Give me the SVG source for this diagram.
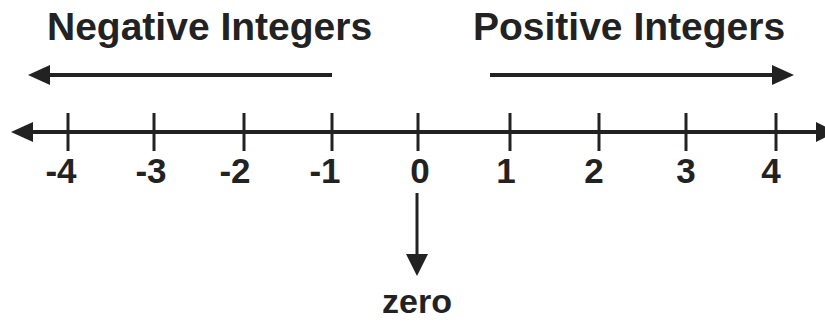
<svg xmlns="http://www.w3.org/2000/svg" width="825" height="327" viewBox="0 0 825 327">
  <style>
    .title { font-family: "Liberation Sans", Arial, sans-serif; font-weight: bold; font-size: 39px; fill: #222; }
    .num { font-family: "Liberation Sans", Arial, sans-serif; font-weight: bold; font-size: 35px; fill: #222; text-anchor: middle; }
    .lbl { font-family: "Liberation Sans", Arial, sans-serif; font-weight: bold; font-size: 34px; fill: #222; text-anchor: middle; }
    .line { stroke: #222; stroke-width: 4; fill: none; }
    .tick { stroke: #222; stroke-width: 3; }
    .head { fill: #222; }
  </style>
  <rect width="825" height="327" fill="#fff"/>

  <!-- headings -->
  <g id="negative-heading">
    <text class="title" x="47" y="40">Negative Integers</text>
  </g>
  <g id="positive-heading">
    <text class="title" x="473" y="40">Positive Integers</text>
  </g>

  <g id="connectors">
    <!-- direction arrows under the headings -->
    <line class="line" x1="332" y1="75" x2="44" y2="75"/>
    <polygon class="head" points="28,75 50,65 50,85"/>
    <line class="line" x1="490" y1="75" x2="778" y2="75"/>
    <polygon class="head" points="794,75 772,65 772,85"/>

    <!-- number line with arrowheads at both ends -->
    <line class="line" x1="26" y1="132" x2="820" y2="132"/>
    <polygon class="head" points="11,132 33,122 33,142"/>
    <polygon class="head" points="836,132 816,122 816,142"/>

    <!-- pointer to zero -->
    <line class="tick" x1="417" y1="193" x2="417" y2="258"/>
    <polygon class="head" points="417,276 406,254 428,254"/>
  </g>

  <!-- ticks and labels -->
  <g id="tick-m4"><line class="tick" x1="68" y1="113" x2="68" y2="151"/><text class="num" x="61" y="183">-4</text></g>
  <g id="tick-m3"><line class="tick" x1="154" y1="113" x2="154" y2="151"/><text class="num" x="151" y="183">-3</text></g>
  <g id="tick-m2"><line class="tick" x1="244" y1="113" x2="244" y2="151"/><text class="num" x="235" y="183">-2</text></g>
  <g id="tick-m1"><line class="tick" x1="332" y1="113" x2="332" y2="151"/><text class="num" x="325" y="183">-1</text></g>
  <g id="tick-0"><line class="tick" x1="418" y1="113" x2="418" y2="151"/><text class="num" x="420" y="183">0</text></g>
  <g id="tick-1"><line class="tick" x1="510" y1="113" x2="510" y2="151"/><text class="num" x="506" y="183">1</text></g>
  <g id="tick-2"><line class="tick" x1="599" y1="113" x2="599" y2="151"/><text class="num" x="594" y="183">2</text></g>
  <g id="tick-3"><line class="tick" x1="686" y1="113" x2="686" y2="151"/><text class="num" x="686" y="183">3</text></g>
  <g id="tick-4"><line class="tick" x1="776" y1="113" x2="776" y2="151"/><text class="num" x="771" y="183">4</text></g>

  <g id="zero-label">
    <text class="lbl" x="417" y="313">zero</text>
  </g>
</svg>
